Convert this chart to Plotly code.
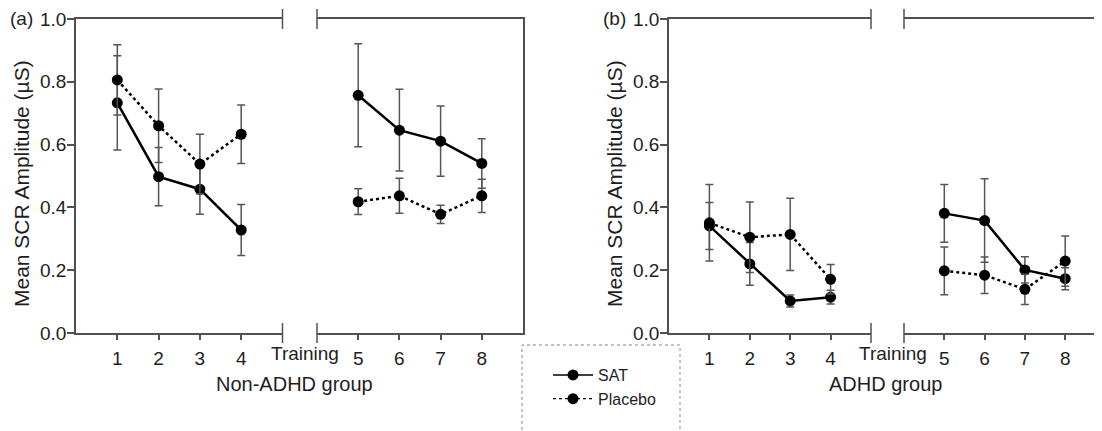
import plotly.graph_objects as go

# ---------------- data ----------------
sessions_pre = [1, 2, 3, 4]
sessions_post = [5, 6, 7, 8]

nonadhd_sat = [0.733, 0.498, 0.458, 0.328, 0.757, 0.646, 0.611, 0.540]
nonadhd_sat_err = [0.150, 0.093, 0.080, 0.081, 0.164, 0.130, 0.112, 0.079]
nonadhd_placebo = [0.806, 0.660, 0.538, 0.633, 0.418, 0.437, 0.378, 0.437]
nonadhd_placebo_err = [0.112, 0.117, 0.095, 0.093, 0.041, 0.056, 0.029, 0.053]

adhd_sat = [0.341, 0.220, 0.102, 0.114, 0.381, 0.358, 0.201, 0.173]
adhd_sat_err = [0.075, 0.068, 0.019, 0.022, 0.092, 0.133, 0.042, 0.035]
adhd_placebo = [0.351, 0.305, 0.314, 0.171, 0.198, 0.184, 0.139, 0.229]
adhd_placebo_err = [0.122, 0.112, 0.115, 0.047, 0.076, 0.058, 0.048, 0.080]

y_ticks = [0.0, 0.2, 0.4, 0.6, 0.8, 1.0]
y_ticklabels = ["0.0", "0.2", "0.4", "0.6", "0.8", "1.0"]
series_names = ["SAT", "Placebo"]
panel_labels = ["(a)", "(b)"]
group_titles = ["Non-ADHD group", "ADHD group"]
y_title = "Mean SCR Amplitude (µS)"
break_label = "Training"

# ---------------- layout helpers ----------------
W, H = 1102, 431
OFF = 8  # page body margin in the browser
FONT = "Arial, Liberation Sans, sans-serif"
AX = "#505050"
TXT = "#1e1e1e"
ERR = "#555555"
TICK_FS = 19


def px_x(p):
    return (p - OFF) / W


def px_y(p):
    return (H - (p - OFF)) / H


y_dom = [px_y(333), px_y(19)]

panels = [
    dict(left=(76, 282.5), right=(317, 523), rend=9.0, rightline=True),
    dict(left=(669, 871), right=(904, 1102), rend=4 + (1102 - 904) / 40.3, rightline=False),
]

data_sets = [
    (nonadhd_sat, nonadhd_sat_err, nonadhd_placebo, nonadhd_placebo_err),
    (adhd_sat, adhd_sat_err, adhd_placebo, adhd_placebo_err),
]

fig = go.Figure()
layout = dict(
    width=W, height=H,
    margin=dict(l=0, r=0, t=0, b=0, autoexpand=False),
    paper_bgcolor="white", plot_bgcolor="rgba(0,0,0,0)",
    font=dict(family=FONT, size=17, color=TXT),
    showlegend=True,
)
shapes = []
annotations = []

line_styles = [dict(color="black", width=2.5, dash="solid"),
               dict(color="black", width=2.5, dash="dot")]

ax_i = 0
for pi, (pan, ds) in enumerate(zip(panels, data_sets)):
    sat, sat_e, pla, pla_e = ds
    for si, (seg, xs, rng) in enumerate([
        (pan["left"], sessions_pre, [0, 5]),
        (pan["right"], sessions_post, [4, pan["rend"]]),
    ]):
        ax_i += 1
        xn = "x" if ax_i == 1 else f"x{ax_i}"
        yn = "y" if ax_i == 1 else f"y{ax_i}"
        xk = "xaxis" if ax_i == 1 else f"xaxis{ax_i}"
        yk = "yaxis" if ax_i == 1 else f"yaxis{ax_i}"
        layout[xk] = dict(
            domain=[px_x(seg[0]), px_x(seg[1])], range=rng, anchor=yn,
            showline=True, linecolor=AX, linewidth=1.5, mirror=True,
            showgrid=False, zeroline=False, automargin=False,
            tickmode="array", tickvals=xs, ticktext=[str(v) for v in xs],
            ticks="outside", ticklen=5, tickwidth=1.5, tickcolor=AX,
            tickfont=dict(size=TICK_FS, color=TXT), ticklabelstandoff=2,
        )
        if si == 0:
            layout[yk] = dict(
                domain=y_dom, range=[0, 1], anchor=xn,
                showline=True, linecolor=AX, linewidth=1.5, mirror=False,
                showgrid=False, zeroline=False, automargin=False,
                tickmode="array", tickvals=y_ticks, ticktext=y_ticklabels,
                ticks="outside", ticklen=7, tickwidth=1.5, tickcolor=AX,
                tickfont=dict(size=TICK_FS, color=TXT), ticklabelstandoff=-3,
            )
        else:
            layout[yk] = dict(
                domain=y_dom, range=[0, 1], anchor=xn, side="right",
                showline=pan["rightline"], linecolor=AX, linewidth=1.5,
                showgrid=False, zeroline=False, showticklabels=False, ticks="",
                automargin=False,
            )
        idx = slice(0, 4) if si == 0 else slice(4, 8)
        for k, (vals, errs) in enumerate([(sat, sat_e), (pla, pla_e)]):
            fig.add_trace(go.Scatter(
                x=xs, y=vals[idx], xaxis=xn, yaxis=yn,
                mode="lines+markers",
                line=line_styles[k],
                marker=dict(symbol="circle", size=11, color="black"),
                error_y=dict(type="data", array=errs[idx], visible=True,
                             color=ERR, thickness=1.5, width=4),
                showlegend=False, name=series_names[k], cliponaxis=False,
            ))
        # break ticks crossing top and bottom lines
        edge = 1 if si == 0 else 0
        for yc in (0, 1):
            shapes.append(dict(
                type="line", xref=f"{xn} domain", yref=f"{yn} domain",
                x0=edge, x1=edge, y0=yc - 10 / 314, y1=yc + 10 / 314,
                line=dict(color=AX, width=1.5),
            ))
    # texts
    lx = pan["left"][0]
    annotations.append(dict(
        text=panel_labels[pi], xref="paper", yref="paper",
        x=px_x(lx - 41), y=px_y(19), xanchor="right", yanchor="middle",
        showarrow=False, font=dict(size=TICK_FS, color=TXT),
    ))
    annotations.append(dict(
        text=y_title, xref="paper", yref="paper", textangle=-90,
        x=px_x(lx - 55), y=px_y(184), xanchor="center", yanchor="middle",
        showarrow=False, font=dict(size=21, color=TXT),
    ))
    annotations.append(dict(
        text=break_label, xref="paper", yref="paper",
        x=px_x((pan["left"][1] + pan["right"][0]) / 2 + 5), y=px_y(353),
        xanchor="center", yanchor="middle",
        showarrow=False, font=dict(size=TICK_FS, color=TXT),
    ))
    cx = (pan["left"][0] + min(pan["right"][1], pan["left"][0] + 436)) / 2
    annotations.append(dict(
        text=group_titles[pi], xref="paper", yref="paper",
        x=px_x(cx), y=px_y(384), xanchor="center", yanchor="middle",
        showarrow=False, font=dict(size=20, color=TXT),
    ))

# legend-only traces
for k in range(2):
    ls = dict(line_styles[k])
    ls["width"] = 1.5 if k == 0 else 1.2
    fig.add_trace(go.Scatter(
        x=[None], y=[None], mode="lines+markers", name=series_names[k],
        line=ls, marker=dict(symbol="circle", size=11, color="black"),
        showlegend=True,
    ))

# dotted legend box
shapes.append(dict(
    type="rect", xref="paper", yref="paper",
    x0=px_x(522), x1=px_x(680), y0=px_y(445), y1=px_y(345),
    line=dict(color="#888888", width=1, dash="dot"), fillcolor="rgba(0,0,0,0)",
))

layout["legend"] = dict(
    x=px_x(548), y=px_y(358), xanchor="left", yanchor="top",
    bgcolor="rgba(0,0,0,0)", borderwidth=0,
    font=dict(size=16, color=TXT), itemwidth=40, tracegroupgap=0,
)
layout["shapes"] = shapes
layout["annotations"] = annotations
fig.update_layout(**layout)

fig.write_html("out.html")
